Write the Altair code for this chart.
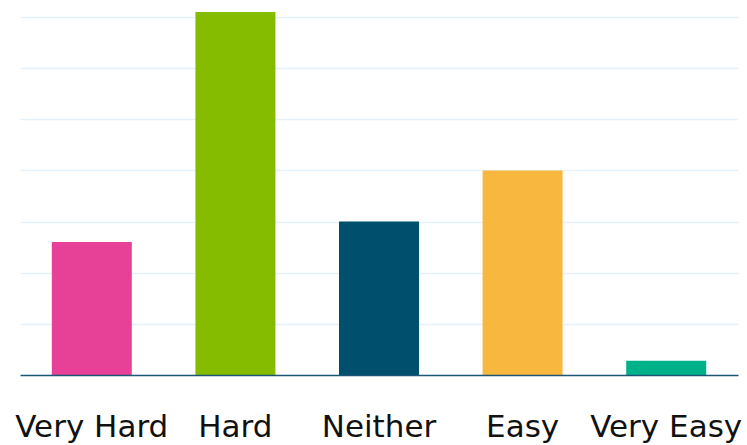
import altair as alt
import pandas as pd

# Survey answers and their share of responses
categories = ["Very Hard", "Hard", "Neither", "Easy", "Very Easy"]
values = [13, 35.5, 15, 20, 1.4]
colors = ["#e64196", "#86bc00", "#004f6d", "#f8b73f", "#00b28a"]
grid_ticks = [5, 10, 15, 20, 25, 30, 35]

df = pd.DataFrame({"answer": categories, "value": values})

chart = (
    alt.Chart(df)
    .mark_bar()
    .encode(
        x=alt.X(
            "answer:N",
            sort=categories,
            title=None,
            scale=alt.Scale(paddingInner=0.443, paddingOuter=0.2215),
            axis=alt.Axis(
                labelAngle=0,
                ticks=False,
                grid=False,
                domainColor="#1d5577",
                domainWidth=1.5,
                labelFont="DejaVu Sans",
                labelFontSize=31,
                labelColor="#111111",
                labelPadding=61,
                labelBaseline="alphabetic",
                zindex=1,
            ),
        ),
        y=alt.Y(
            "value:Q",
            title=None,
            scale=alt.Scale(domain=[0, 35.5], nice=False),
            axis=alt.Axis(
                values=grid_ticks,
                labels=False,
                ticks=False,
                domain=False,
                grid=True,
                gridColor="#e6f2fb",
                gridWidth=1.5,
            ),
        ),
        color=alt.Color(
            "answer:N",
            sort=categories,
            scale=alt.Scale(domain=categories, range=colors),
            legend=None,
        ),
    )
    .properties(
        width=718,
        height=363,
        autosize=alt.AutoSizeParams(type="none"),
        padding={"left": 20, "top": 12, "right": 9, "bottom": 70},
    )
    .configure_view(stroke=None)
)

chart.save("out.html", embed_options={"renderer": "svg", "actions": False})
